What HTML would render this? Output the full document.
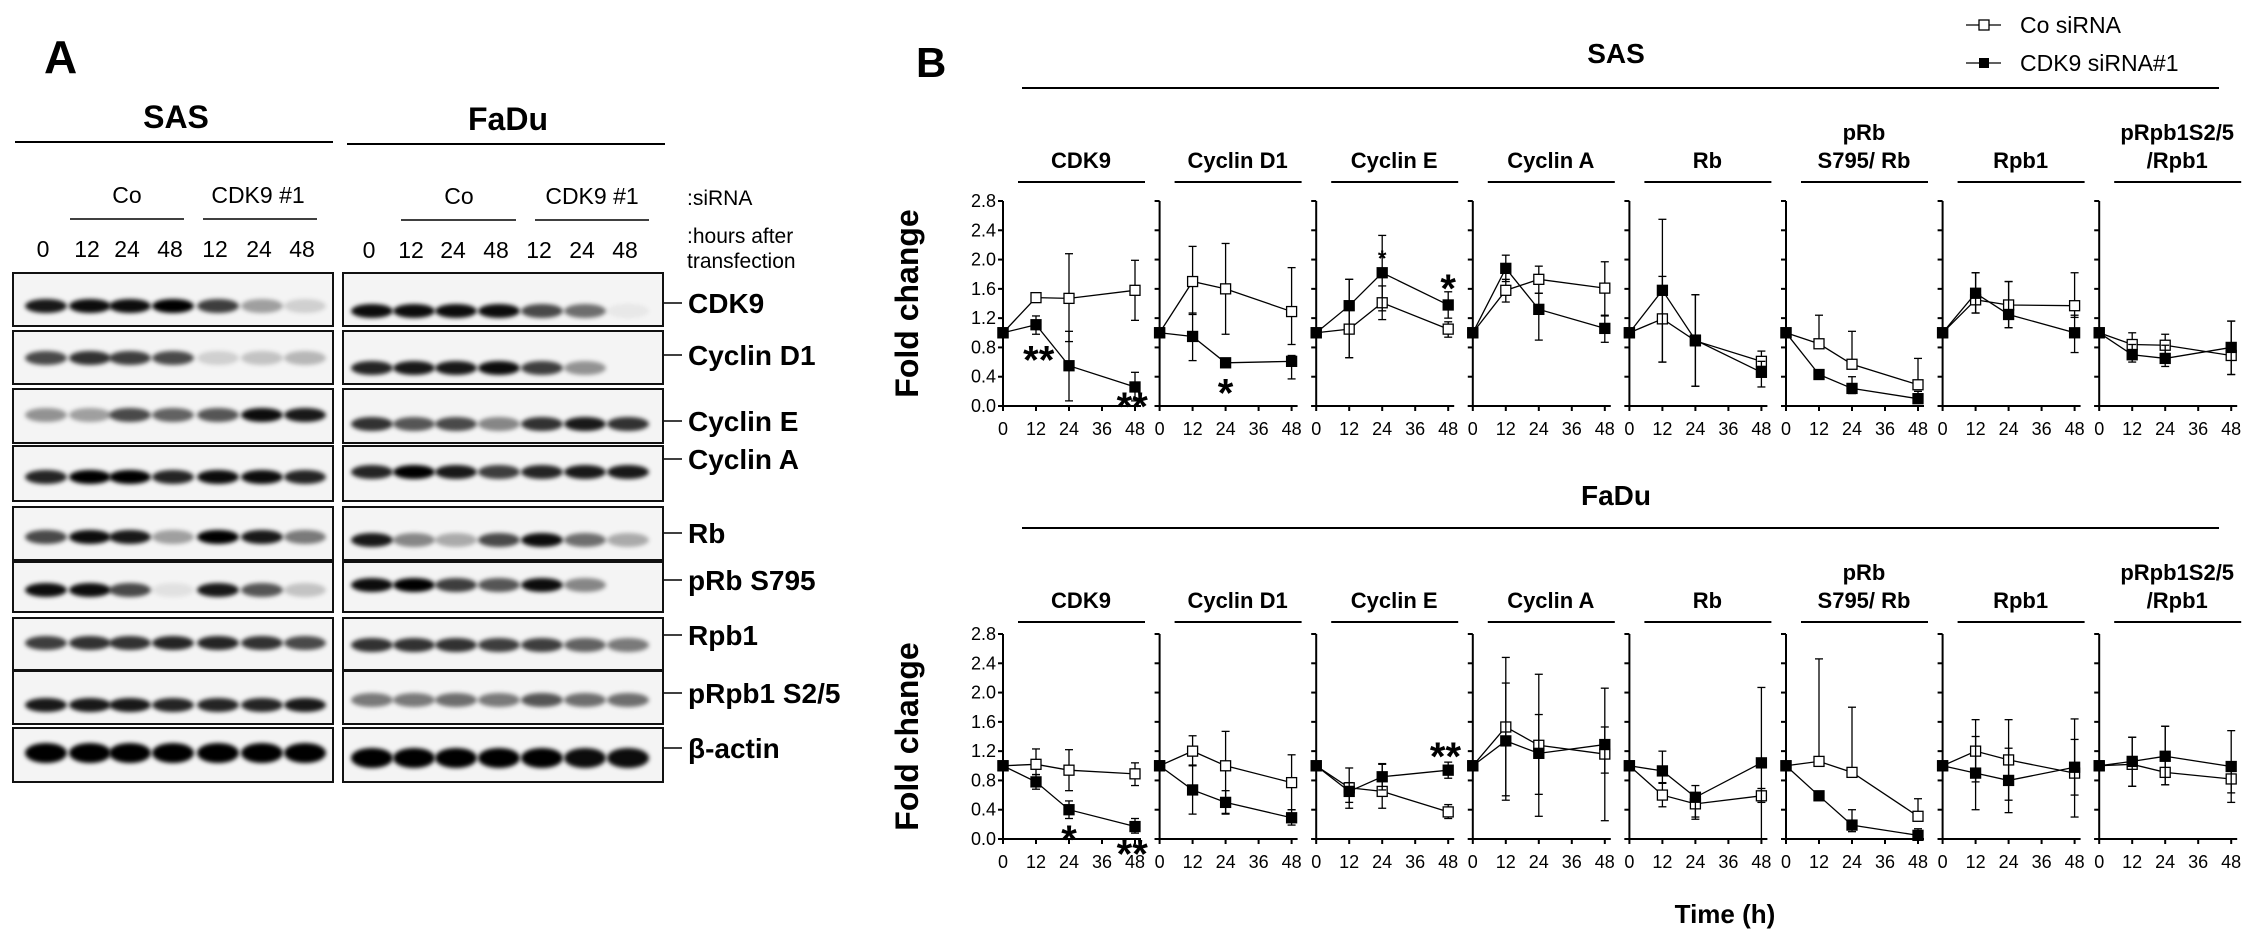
<!DOCTYPE html>
<html><head><meta charset="utf-8"><style>
html,body{margin:0;padding:0;background:#fff;}
svg{display:block;}
text{font-family:"Liberation Sans",Arial,sans-serif;fill:#000;}
.nar{font-family:"Liberation Sans Narrow","Liberation Sans",sans-serif;}
</style></head><body>
<svg id="fig" width="2268" height="948" viewBox="0 0 2268 948" xmlns="http://www.w3.org/2000/svg">
<defs><filter id="blur" x="-30%" y="-80%" width="160%" height="260%"><feGaussianBlur stdDeviation="2.2"/></filter></defs>
<g id="panelA">
<text x="44" y="73" font-size="46" font-weight="bold">A</text>
<text x="176" y="128" font-size="32" font-weight="bold" text-anchor="middle" class="nar">SAS</text>
<text x="508" y="130" font-size="32" font-weight="bold" text-anchor="middle" class="nar">FaDu</text>
<line x1="15" y1="142" x2="333" y2="142" stroke="#000" stroke-width="2"/>
<line x1="347" y1="144" x2="665" y2="144" stroke="#000" stroke-width="2"/>
<text x="127" y="203" font-size="23" text-anchor="middle" class="nar">Co</text>
<text x="258" y="203" font-size="23" text-anchor="middle" class="nar">CDK9 #1</text>
<text x="459" y="204" font-size="23" text-anchor="middle" class="nar">Co</text>
<text x="592" y="204" font-size="23" text-anchor="middle" class="nar">CDK9 #1</text>
<line x1="70" y1="219" x2="184" y2="219" stroke="#000" stroke-width="1.5"/>
<line x1="203" y1="219" x2="317" y2="219" stroke="#000" stroke-width="1.5"/>
<line x1="401" y1="220" x2="516" y2="220" stroke="#000" stroke-width="1.5"/>
<line x1="535" y1="220" x2="649" y2="220" stroke="#000" stroke-width="1.5"/>
<text x="687" y="205" font-size="21" class="nar">:siRNA</text>
<text x="687" y="243" font-size="21" class="nar">:hours after</text>
<text x="687" y="268" font-size="21" class="nar">transfection</text>
<g id="blots"></g>
</g>
<g id="panelB">
<text x="916" y="77" font-size="42" font-weight="bold">B</text>
<text x="1616" y="63" font-size="28" font-weight="bold" text-anchor="middle" class="nar">SAS</text>
<line x1="1022" y1="88" x2="2219" y2="88" stroke="#000" stroke-width="2"/>
<text x="1616" y="505" font-size="28" font-weight="bold" text-anchor="middle" class="nar">FaDu</text>
<line x1="1022" y1="528" x2="2219" y2="528" stroke="#000" stroke-width="2"/>
<g>
<g><line x1="1966" y1="25" x2="2001" y2="25" stroke="#000" stroke-width="1.3"/><rect x="1979" y="20" width="10" height="10" fill="#fff" stroke="#000" stroke-width="1.3"/><text x="2020" y="33" font-size="23" class="nar">Co siRNA</text></g>
<g><line x1="1966" y1="63" x2="2001" y2="63" stroke="#000" stroke-width="1.3"/><rect x="1979" y="58" width="10" height="10" fill="#000"/><text x="2020" y="71" font-size="23" class="nar">CDK9 siRNA#1</text></g>
</g>
<text x="1725" y="923" font-size="26" font-weight="bold" text-anchor="middle">Time (h)</text>
<g id="charts"></g>
</g>
</svg>
<script>
const NS="http://www.w3.org/2000/svg";
// ---------- chart data ----------
const panelNames=[["CDK9"],["Cyclin D1"],["Cyclin E"],["Cyclin A"],["Rb"],["pRb","S795/ Rb"],["Rpb1"],["pRpb1S2/5","/Rpb1"]];
const times=[0,12,24,48];
const xTicks=[0,12,24,36,48];
const yTicks=[0,0.4,0.8,1.2,1.6,2.0,2.4,2.8];
const sasCoMean=[[1,1.48,1.47,1.58],[1,1.70,1.60,1.29],[1,1.05,1.41,1.05],[1,1.58,1.73,1.61],[1,1.19,0.89,0.61],[1,0.85,0.57,0.29],[1,1.45,1.38,1.37],[1,0.84,0.83,0.69]];
const sasCoHi=[[null,null,2.08,1.99],[null,2.18,2.22,1.89],[null,1.73,1.64,1.15],[null,1.73,1.91,1.97],[null,2.55,1.52,0.75],[null,1.24,1.02,0.65],[null,1.82,1.70,1.82],[null,1.0,0.98,1.16]];
const sasCoLo=[[null,null,0.88,1.17],[null,1.25,0.98,0.84],[null,0.66,1.18,0.94],[null,1.42,1.54,1.24],[null,0.6,0.27,0.48],[null,null,null,null],[null,1.27,1.07,1.21],[null,0.68,0.68,0.43]];
const sasKdMean=[[1,1.11,0.55,0.26],[1,0.95,0.59,0.61],[1,1.37,1.82,1.38],[1,1.88,1.32,1.06],[1,1.58,0.90,0.46],[1,0.43,0.24,0.10],[1,1.54,1.25,1.0],[1,0.70,0.65,0.80]];
const sasKdHi=[[null,1.23,1.02,0.46],[null,1.27,null,0.69],[null,1.73,2.33,1.56],[null,2.06,1.54,1.23],[null,1.77,1.52,0.61],[null,null,0.40,0.20],[null,1.82,1.70,1.24],[null,0.84,0.83,1.16]];
const sasKdLo=[[null,0.98,0.07,0.07],[null,0.62,null,0.37],[null,0.66,1.30,1.20],[null,1.70,0.90,0.87],[null,0.6,0.27,0.26],[null,null,0.17,0.05],[null,1.27,1.07,0.73],[null,0.60,0.54,0.43]];
const faduCoMean=[[1,1.02,0.94,0.89],[1,1.20,1.0,0.77],[1,0.70,0.65,0.37],[1,1.53,1.28,1.16],[1,0.60,0.48,0.59],[1,1.06,0.91,0.31],[1,1.20,1.08,0.90],[1,1.02,0.91,0.82]];
const faduCoHi=[[null,1.23,1.22,1.04],[null,1.41,1.47,1.15],[null,0.97,1.03,0.47],[null,2.48,1.70,1.53],[null,0.77,0.55,0.69],[null,2.46,1.80,0.55],[null,1.63,1.63,1.64],[null,1.39,1.54,1.0]];
const faduCoLo=[[null,0.88,0.66,0.73],[null,1.0,0.34,0.4],[null,0.5,0.42,0.28],[null,0.59,0.61,0.90],[null,0.44,0.30,0.50],[null,null,null,null],[null,0.78,0.53,0.30],[null,0.72,0.74,0.63]];
const faduKdMean=[[1,0.78,0.40,0.17],[1,0.67,0.50,0.29],[1,0.65,0.85,0.94],[1,1.34,1.17,1.29],[1,0.93,0.57,1.04],[1,0.59,0.19,0.05],[1,0.90,0.80,0.98],[1,1.06,1.13,0.99]];
const faduKdHi=[[null,0.88,0.52,0.28],[null,1.01,0.66,0.40],[null,0.77,1.02,1.05],[null,2.13,2.25,2.06],[null,1.20,0.73,2.07],[null,null,0.40,0.14],[null,1.40,1.24,1.36],[null,1.39,1.54,1.48]];
const faduKdLo=[[null,0.68,0.28,0.08],[null,0.34,0.35,0.19],[null,0.42,0.67,0.83],[null,0.53,0.31,0.25],[null,0.76,0.27,0.0],[null,null,0.1,0.0],[null,0.40,0.36,0.6],[null,0.72,0.74,0.50]];
// significance: [panel, time, label, font size, centre value]
const sasStars=[[0,13,"**",40,0.78],[0,47,"**",40,0.15],[1,24,"*",40,0.33],[2,24,"*",22,2.10],[2,48,"*",40,1.76]];
const faduStars=[[0,24,"*",40,0.15],[0,47,"**",40,-0.05],[2,47,"**",40,1.28]];

// ---------- blot data ----------
const blotLabels=["CDK9","Cyclin D1","Cyclin E","Cyclin A","Rb","pRb S795","Rpb1","pRpb1 S2/5","\u03b2-actin"];
const sasBands=[[.9,.95,.95,1,.75,.35,.15],[.7,.8,.75,.7,.15,.2,.25],[.4,.35,.7,.6,.65,.95,.9],[.85,1,1,.85,.95,.95,.85],[.7,.95,.9,.35,1,.9,.5],[.95,.95,.7,.08,.9,.65,.2],[.75,.8,.8,.85,.85,.8,.7],[.9,.9,.9,.85,.85,.85,.9],[1,1,1,1,1,1,1]];
const faduBands=[[.95,.95,.95,.95,.7,.55,.05],[.85,.9,.9,.95,.75,.4,0],[.8,.65,.7,.45,.8,.9,.8],[.85,1,.9,.75,.85,.9,.9],[.9,.45,.3,.7,.95,.55,.3],[.95,1,.75,.65,.95,.45,0],[.8,.8,.8,.75,.75,.6,.5],[.5,.5,.55,.5,.65,.55,.55],[1,1,1,1,1,.95,.95]];
const laneLabels=["0","12","24","48","12","24","48"];

function mk(tag,attrs,parent){const e=document.createElementNS(NS,tag);for(const k in attrs)e.setAttribute(k,attrs[k]);parent.appendChild(e);return e;}

// ---------- blots ----------
const blots=document.getElementById("blots");
const boxTop=[273,331,389,446,507,562,618,671,728];
const boxBot=[326,384,443,501,560,612,670,724,782];
const sasBandY=[306,358,415,477,537,590,643,705,753];
const faduBandY=[311,368,424,472,540,585,645,700,758];
const tickY=[303,355,421,459,533,580,635,693,748];
const sasLaneX=[46,90,130,173,218,262,305];
const faduLaneX=[372,414,456,499,542,585,628];
sasLaneX.forEach((x,i)=>{const t=mk("text",{x:x-3,y:257,"font-size":23,"text-anchor":"middle",class:"nar"},blots);t.textContent=laneLabels[i];

});
faduLaneX.forEach((x,i)=>{const t=mk("text",{x:x-3,y:258,"font-size":23,"text-anchor":"middle",class:"nar"},blots);t.textContent=laneLabels[i];

});
blotLabels.forEach((lab,r)=>{
  [[13,333,sasBands,sasLaneX,sasBandY,'sas'],[343,663,faduBands,faduLaneX,faduBandY,'fadu']].forEach(([x0,x1,bands,lx,by,cell])=>{
    const g=mk("g",{},blots);
    
    
    mk("rect",{x:x0,y:boxTop[r],width:x1-x0,height:boxBot[r]-boxTop[r],fill:"#f4f4f4",stroke:"#111","stroke-width":2},g);
    bands[r].forEach((v,i)=>{
      if(v<=0)return;
      const ry=r===8?10:7;
      const b=mk("ellipse",{cx:lx[i],cy:by[r],rx:21,ry:ry,fill:"#000","fill-opacity":v,filter:"url(#blur)"},g);
      
      
    });
  });
  const tl=mk("line",{x1:664,y1:tickY[r],x2:682,y2:tickY[r],stroke:"#000","stroke-width":1.5},blots);
  
  
  const t=mk("text",{x:688,y:tickY[r]+10,"font-size":28,"font-weight":"bold",class:"nar"},blots);
  t.textContent=lab;
  
  
});

// ---------- charts ----------
const charts=document.getElementById("charts");
const axisX0=1003, panelStep=156.6, xSpan=132;
function drawChart(cell,y0,y28,titleY,lineY,coM,coH,coL,kdM,kdH,kdL,stars){
  const yS=v=>y0-(v/2.8)*(y0-y28);
  const g=mk("g",{},charts);
  
  
  const fl=mk("text",{x:0,y:0,"font-size":32,"font-weight":"bold","text-anchor":"middle",transform:`translate(918,${(y0+y28)/2}) rotate(-90)`},g);
  fl.textContent="Fold change";
  
  
  for(let p=0;p<8;p++){
    const ax=axisX0+p*panelStep;
    const xS=t=>ax+(t/48)*xSpan;
    const pg=mk("g",{},g);
    
    
    const nm=panelNames[p];
    nm.forEach((s,k)=>{const t=mk("text",{x:ax+78,y:titleY-(nm.length-1-k)*28,"font-size":22,"font-weight":"bold","text-anchor":"middle",class:"nar"},pg);t.textContent=s;
      
      });
    mk("line",{x1:ax+15,y1:lineY,x2:ax+142,y2:lineY,stroke:"#000","stroke-width":2},pg);
    mk("line",{x1:ax,y1:yS(2.8),x2:ax,y2:yS(0),stroke:"#000","stroke-width":2},pg);
    mk("line",{x1:ax-5,y1:yS(0),x2:xS(48)+6,y2:yS(0),stroke:"#000","stroke-width":2},pg);
    yTicks.forEach(v=>{mk("line",{x1:ax-5,y1:yS(v),x2:ax,y2:yS(v),stroke:"#000","stroke-width":2},pg);
      if(p===0){const t=mk("text",{x:ax-7,y:yS(v)+6,"font-size":18,"text-anchor":"end"},pg);t.textContent=v.toFixed(1);
        
        }});
    xTicks.forEach(v=>{mk("line",{x1:xS(v),y1:yS(0),x2:xS(v),y2:yS(0)+5,stroke:"#000","stroke-width":2},pg);
      const t=mk("text",{x:xS(v),y:yS(0)+29,"font-size":18,"text-anchor":"middle"},pg);t.textContent=v;
      
      });
    [[coM,coH,coL,"#fff","co"],[kdM,kdH,kdL,"#000","cdk9"]].forEach(([M,H,L,fill,sn])=>{
      const pts=times.map((t,i)=>xS(t)+","+yS(M[p][i])).join(" ");
      const pl=mk("polyline",{points:pts,fill:"none",stroke:"#000","stroke-width":1.3},pg);
      
      
      times.forEach((t,i)=>{
        const x=xS(t);
        [H[p][i],L[p][i]].forEach(e=>{ if(e===null)return;
          mk("line",{x1:x,y1:yS(M[p][i]),x2:x,y2:yS(e),stroke:"#000","stroke-width":1.3},pg);
          mk("line",{x1:x-4,y1:yS(e),x2:x+4,y2:yS(e),stroke:"#000","stroke-width":1.3},pg);});
      });
      times.forEach((t,i)=>{
        const r=mk("rect",{x:xS(t)-5,y:yS(M[p][i])-5,width:10,height:10,fill:fill,stroke:"#000","stroke-width":1.3},pg);
        
        
      });
    });
  }
  stars.forEach(([p,t,lab,sz,cv])=>{
    const ax=axisX0+p*panelStep;
    const x=ax+(t/48)*xSpan;
    const cy=yS(cv);
    const s=mk("text",{x:x,y:cy+sz*0.62,"font-size":sz,"font-weight":"bold","text-anchor":"middle"},g);
    s.textContent=lab;
    
    
  });
}
drawChart("sas",406,201,168,182,sasCoMean,sasCoHi,sasCoLo,sasKdMean,sasKdHi,sasKdLo,sasStars);
drawChart("fadu",839,634,608,622,faduCoMean,faduCoHi,faduCoLo,faduKdMean,faduKdHi,faduKdLo,faduStars);
</script>
</body></html>
